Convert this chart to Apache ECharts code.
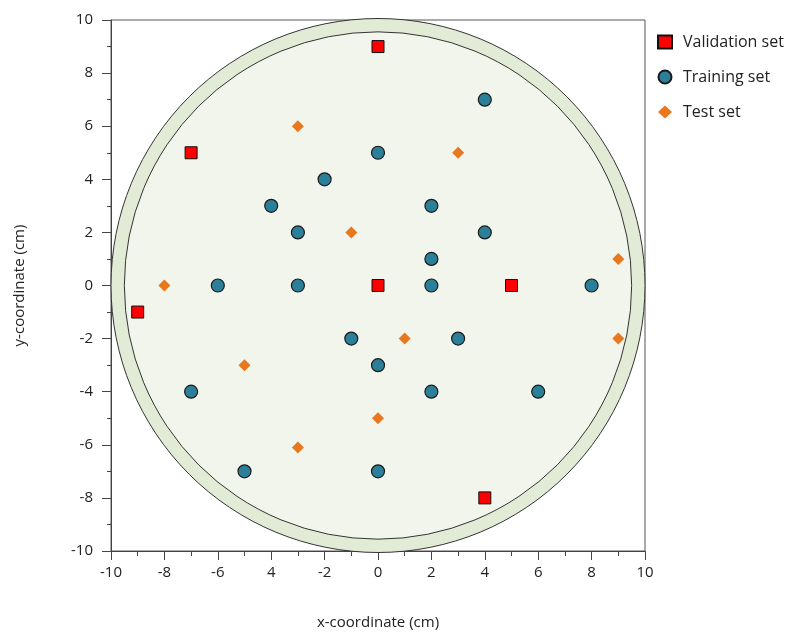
<!DOCTYPE html>
<html>
<head>
<meta charset="utf-8">
<script src="https://cdn.jsdelivr.net/npm/echarts@6/dist/echarts.min.js"></script>
<style>
  html, body { margin: 0; padding: 0; background: #fff; }
  #chart { width: 798px; height: 635px; }
</style>
</head>
<body>
<div id="chart"></div>
<script>
// data
const validationSet = [[0, 9], [-7, 5], [-9, -1], [0, 0], [5, 0], [4, -8]];
const trainingSet = [
  [4, 7], [0, 5], [-2, 4], [-4, 3], [2, 3], [-3, 2], [4, 2], [2, 1],
  [-6, 0], [-3, 0], [2, 0], [8, 0], [-1, -2], [3, -2], [0, -3],
  [-7, -4], [2, -4], [6, -4], [-5, -7], [0, -7]
];
const testSet = [
  [-3, 6], [3, 5], [-1, 2], [9, 1], [-8, 0], [9, -2], [1, -2],
  [-5, -3], [0, -5], [-3, -6.1]
];
// dish outline: [cx, cy, radius]
const dishRings = [[0, 0, 10], [0, 0, 9.5]];
const xTickLabels = ['-10', '-8', '-6', '4', '-2', '0', '2', '4', '6', '8', '10'];
const yTickLabels = ['-10', '-8', '-6', '-4', '-2', '0', '2', '4', '6', '8', '10'];

const ringFills = ['#e2ebd6', '#f2f5eb'];
const font = 'Open Sans';

let chart = echarts.init(document.getElementById('chart'));
chart.setOption({
  animation: false,
  grid: {
    left: 111, right: 153, top: 20, bottom: 83,
    show: true, borderColor: '#555', borderWidth: 1
  },
  legend: {
    orient: 'vertical',
    left: 652, top: 29,
    itemGap: 19,
    itemWidth: 14, itemHeight: 13,
    textStyle: { fontFamily: font, fontSize: 16, color: '#222', padding: [0, 0, 0, 6] },
    data: ['Validation set', 'Training set', 'Test set']
  },
  xAxis: {
    type: 'value', min: -10, max: 10, interval: 2,
    name: 'x-coordinate (cm)', nameLocation: 'middle', nameGap: 64,
    nameTextStyle: { fontFamily: font, fontSize: 15, color: '#222' },
    axisLine: { onZero: false, lineStyle: { color: '#444' } },
    axisTick: { show: true, length: 9, lineStyle: { color: '#444' } },
    minorTick: { show: true, splitNumber: 2, length: 5, lineStyle: { color: '#444' } },
    splitLine: { show: false },
    axisLabel: {
      fontFamily: font, fontSize: 15, color: '#222', margin: 14,
      formatter: v => xTickLabels[Math.round((v + 10) / 2)]
    }
  },
  yAxis: {
    type: 'value', min: -10, max: 10, interval: 2,
    name: 'y-coordinate (cm)', nameLocation: 'middle', nameGap: 84,
    nameTextStyle: { fontFamily: font, fontSize: 15, color: '#222' },
    axisLine: { show: true, onZero: false, lineStyle: { color: '#444' } },
    axisTick: { show: true, length: 9, lineStyle: { color: '#444' } },
    minorTick: { show: true, splitNumber: 2, length: 4, lineStyle: { color: '#444' } },
    splitLine: { show: false },
    axisLabel: {
      fontFamily: font, fontSize: 15, color: '#222', margin: 18,
      formatter: v => yTickLabels[Math.round((v + 10) / 2)]
    }
  },
  series: [
    {
      type: 'custom',
      z: 1,
      silent: true,
      data: dishRings,
      renderItem: function (params, api) {
        const c = api.coord([api.value(0), api.value(1)]);
        const r = api.size([api.value(2), 0])[0];
        return {
          type: 'circle',
          shape: { cx: c[0], cy: c[1], r: r },
          style: { fill: ringFills[params.dataIndex], stroke: '#333', lineWidth: 1 }
        };
      }
    },
    {
      name: 'Validation set', type: 'scatter', z: 5,
      symbol: 'rect', symbolSize: 12,
      itemStyle: { color: '#ff0000', borderColor: '#111', borderWidth: 1, opacity: 1 },
      data: validationSet
    },
    {
      name: 'Training set', type: 'scatter', z: 5,
      symbol: 'circle', symbolSize: 13,
      itemStyle: { color: '#2b7f99', borderColor: '#1a1a1a', borderWidth: 1.2, opacity: 1 },
      data: trainingSet
    },
    {
      name: 'Test set', type: 'scatter', z: 5,
      symbol: 'diamond', symbolSize: 12,
      itemStyle: { color: '#e8771e', opacity: 1 },
      data: testSet
    }
  ]
});
</script>
</body>
</html>
